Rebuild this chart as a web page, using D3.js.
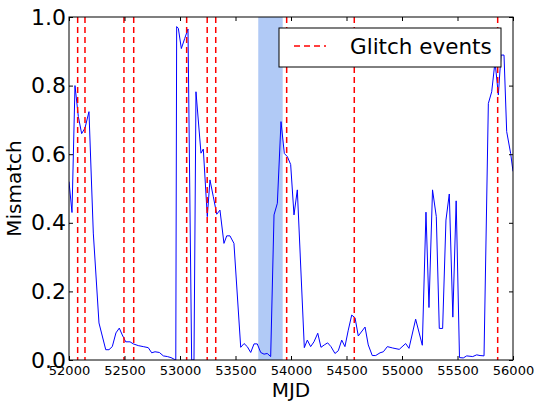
<!DOCTYPE html>
<html>
<head>
<meta charset="utf-8">
<script src="https://cdn.jsdelivr.net/npm/d3@7"></script>
<style>
  body { margin: 0; background: #fff; }
  svg { display: block; font-family: "DejaVu Sans", sans-serif; }
</style>
</head>
<body>
<svg width="536" height="402"></svg>
<script>
// данные: MJD и значения mismatch
const mjd = [52000, 52027, 52054, 52084, 52114, 52144, 52180, 52219, 52270, 52331,
  52360, 52390, 52423, 52453, 52480, 52511, 52550, 52579, 52624, 52669,
  52714, 52745, 52775, 52814, 52850, 52886, 52919, 52949, 52962, 52970,
  52985, 53012, 53042, 53072, 53105, 53126, 53144, 53189, 53210, 53246,
  53270, 53300, 53331, 53360, 53396, 53421, 53450, 53486, 53547, 53577,
  53606, 53637, 53667, 53696, 53727, 53757, 53786, 53817, 53847, 53877,
  53910, 53940, 53967, 53997, 54027, 54057, 54120, 54147, 54177, 54207,
  54241, 54270, 54300, 54330, 54360, 54396, 54426, 54457, 54486, 54516,
  54547, 54577, 54606, 54667, 54696, 54732, 54763, 54802, 54832, 54868,
  54916, 54975, 55033, 55063, 55123, 55183, 55216, 55243, 55275, 55309,
  55336, 55366, 55396, 55426, 55458, 55488, 55518, 55552, 55583, 55637,
  55673, 55703, 55739, 55778, 55808, 55838, 55868, 55892, 55919, 55943,
  55979, 56000];
const mismatch = [0.52, 0.43, 0.80, 0.71, 0.66, 0.676, 0.724, 0.37, 0.108, 0.03,
  0.03, 0.039, 0.079, 0.093, 0.073, 0.053, 0.053, 0.047, 0.042, 0.039,
  0.036, 0.021, 0.024, 0.022, 0.012, 0.010, 0.007, 0.002, 0.0, 0.972,
  0.967, 0.908, 0.937, 0.965, 0.0, 0.0, 0.782, 0.603, 0.615, 0.418,
  0.525, 0.476, 0.425, 0.437, 0.34, 0.362, 0.362, 0.34, 0.037, 0.048,
  0.039, 0.022, 0.047, 0.047, 0.022, 0.017, 0.019, 0.01, 0.423, 0.457,
  0.695, 0.602, 0.593, 0.570, 0.423, 0.496, 0.036, 0.058, 0.039, 0.053,
  0.078, 0.037, 0.044, 0.05, 0.039, 0.019, 0.027, 0.058, 0.039, 0.087,
  0.131, 0.123, 0.07, 0.096, 0.044, 0.013, 0.013, 0.021, 0.024, 0.039,
  0.035, 0.031, 0.048, 0.034, 0.119, 0.043, 0.431, 0.153, 0.496, 0.418,
  0.092, 0.092, 0.408, 0.484, 0.125, 0.464, 0.007, 0.006, 0.012, 0.01,
  0.015, 0.013, 0.012, 0.748, 0.782, 0.87, 0.773, 0.889, 0.889, 0.666,
  0.602, 0.55];

// моменты глитчей (красные пунктирные линии)
const glitches = [52078, 52144, 52495, 52583, 53060, 53245, 53322, 53961, 54570, 55862];
// закрашенная полоса
const band = [53705, 53925];

const xTicks = [52000, 52500, 53000, 53500, 54000, 54500, 55000, 55500, 56000];
const yTicks = [0.0, 0.2, 0.4, 0.6, 0.8, 1.0];

function drawGraph() {
    let svg = d3.select("svg");
    svg.selectAll('*').remove();

    const attr_area = {
        width: 536,
        height: 402,
        left: 69,
        right: 23,
        top: 17,
        bottom: 42
    };
    const w = attr_area.width - attr_area.left - attr_area.right;
    const h = attr_area.height - attr_area.top - attr_area.bottom;

    const scaleX = d3.scaleLinear().domain([52000, 56000]).range([0, w]);
    const scaleY = d3.scaleLinear().domain([0, 1]).range([h, 0]);

    svg.append("defs").append("clipPath").attr("id", "clip")
        .append("rect").attr("width", w).attr("height", h);

    let g = svg.append("g")
        .attr("transform", `translate(${attr_area.left}, ${attr_area.top})`);

    let plot = g.append("g").attr("clip-path", "url(#clip)");

    // полоса
    plot.append("rect")
        .attr("x", scaleX(band[0]))
        .attr("y", 0)
        .attr("width", scaleX(band[1]) - scaleX(band[0]))
        .attr("height", h)
        .attr("fill", "#b1caf6");

    // кривая
    const line = d3.line()
        .x((d, i) => scaleX(mjd[i]))
        .y(d => scaleY(d));
    plot.append("path")
        .datum(mismatch)
        .attr("d", line)
        .attr("fill", "none")
        .attr("stroke", "#0000ff")
        .attr("stroke-width", 1);

    // глитчи
    plot.selectAll(".glitch")
        .data(glitches)
        .enter()
        .append("line")
        .attr("x1", d => scaleX(d))
        .attr("x2", d => scaleX(d))
        .attr("y1", 0)
        .attr("y2", h)
        .attr("stroke", "#ff0000")
        .attr("stroke-width", 1.5)
        .attr("stroke-dasharray", "6,4");

    // оси: метки внутрь, на всех четырёх сторонах
    const tl = 4;
    let axB = g.append("g").attr("transform", `translate(0, ${h})`)
        .call(d3.axisBottom(scaleX).tickValues(xTicks).tickSize(-tl).tickPadding(6).tickFormat(d3.format("d")));
    let axT = g.append("g")
        .call(d3.axisTop(scaleX).tickValues(xTicks).tickSize(-tl).tickFormat(""));
    let axL = g.append("g")
        .call(d3.axisLeft(scaleY).tickValues(yTicks).tickSize(-tl).tickPadding(3).tickFormat(d3.format(".1f")));
    let axR = g.append("g").attr("transform", `translate(${w}, 0)`)
        .call(d3.axisRight(scaleY).tickValues(yTicks).tickSize(-tl).tickFormat(""));

    [axB, axT, axL, axR].forEach(a => {
        a.select(".domain").remove();
        a.selectAll("line").attr("stroke", "#000");
    });
    axB.selectAll("text").style("font-size", "13px").attr("fill", "#000").attr("font-family", "DejaVu Sans");
    axL.selectAll("text").style("font-size", "22px").attr("fill", "#000").attr("font-family", "DejaVu Sans");

    // рамка
    g.append("rect")
        .attr("width", w).attr("height", h)
        .attr("fill", "none").attr("stroke", "#000").attr("stroke-width", 1);

    // подписи осей
    svg.append("text")
        .attr("x", attr_area.left + w / 2)
        .attr("y", 397)
        .attr("text-anchor", "middle")
        .style("font-size", "20px")
        .text("MJD");
    svg.append("text")
        .attr("transform", `translate(21, ${attr_area.top + h / 2}) rotate(-90)`)
        .attr("text-anchor", "middle")
        .style("font-size", "20px")
        .text("Mismatch");

    // легенда
    let leg = svg.append("g");
    leg.append("rect")
        .attr("x", 279).attr("y", 28)
        .attr("width", 222).attr("height", 39)
        .attr("fill", "#fff").attr("stroke", "#000").attr("stroke-width", 1);
    leg.append("line")
        .attr("x1", 294).attr("x2", 326)
        .attr("y1", 46).attr("y2", 46)
        .attr("stroke", "#ff0000").attr("stroke-width", 1.5)
        .attr("stroke-dasharray", "6,4");
    leg.append("text")
        .attr("x", 350).attr("y", 54)
        .style("font-size", "21.5px")
        .text("Glitch events");
}

drawGraph();
</script>
</body>
</html>
